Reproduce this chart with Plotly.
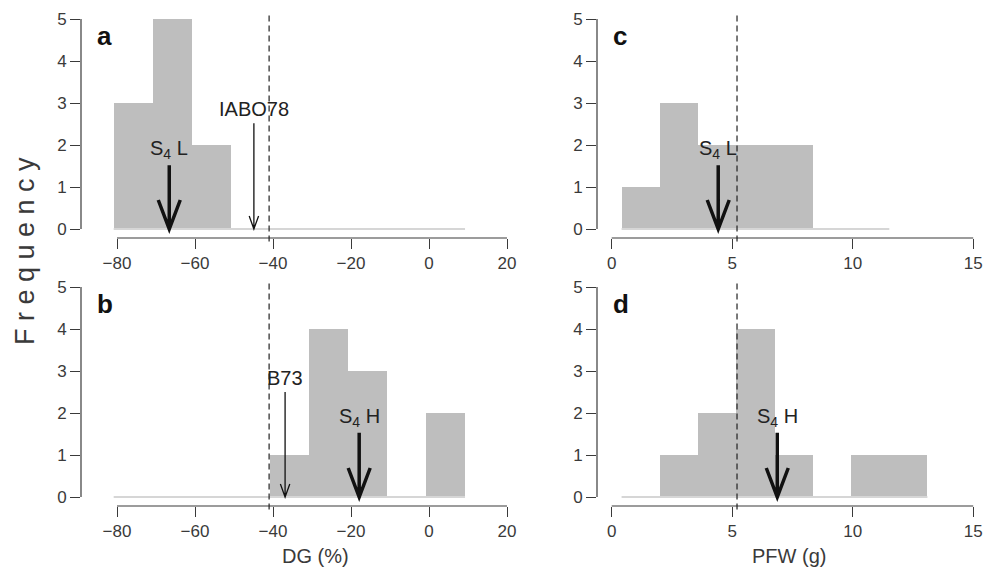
import plotly.graph_objects as go

# ---------------- data ----------------
dg_breaks = [-80.85, -70.84, -60.83, -50.82, -40.81, -30.80, -20.79, -10.78, -0.77, 9.24]
dg_counts_a = [3, 5, 2, 0, 0, 0, 0, 0, 0]
dg_counts_b = [0, 0, 0, 0, 1, 4, 3, 0, 2]

pfw_breaks_c = [0.41, 2.0, 3.58, 5.17, 6.76, 8.35, 9.93, 11.52]
pfw_counts_c = [1, 3, 2, 2, 2, 0, 0]
pfw_breaks_d = [0.41, 2.0, 3.58, 5.17, 6.76, 8.35, 9.93, 11.52, 13.1]
pfw_counts_d = [0, 1, 2, 4, 1, 0, 1, 1]

dg_threshold = -41.0
pfw_threshold = 5.2

dg_ticks = [-80, -60, -40, -20, 0, 20]
pfw_ticks = [0, 5, 10, 15]
freq_ticks = [0, 1, 2, 3, 4, 5]

# arrows: (x, y_start, label, thick)
arrows_a = [(-66.6, 1.52, "S<sub>4</sub> L", True), (-44.9, 2.52, "IABO78", False)]
arrows_b = [(-36.9, 2.50, "B73", False), (-17.9, 1.53, "S<sub>4</sub> H", True)]
arrows_c = [(4.42, 1.52, "S<sub>4</sub> L", True)]
arrows_d = [(6.87, 1.53, "S<sub>4</sub> H", True)]

panel_letters = ["a", "b", "c", "d"]
x_titles = ["DG (%)", "PFW (g)"]
y_title = "F r e q u e n c y"

# ---------------- layout geometry ----------------
W, H = 992, 574
FONT = "Liberation Sans, Arial, Helvetica, sans-serif"
AXC = "#3a3a3a"
BAR = "#bebebe"
ZERO = "#d6d6d6"

def fx(px):
    return px / W

def fy(py):
    return 1 - py / H

panels = [
    dict(name="a", xd=(81, 522), yd=(238, 10.6), x0px=117, x0v=-80, xs=3.9, y0px=229, ys=42,
         breaks=dg_breaks, counts=dg_counts_a, thr=dg_threshold, ticks=dg_ticks, arrows=arrows_a),
    dict(name="b", xd=(81, 522), yd=(506, 278.6), x0px=117, x0v=-80, xs=3.9, y0px=497, ys=42,
         breaks=dg_breaks, counts=dg_counts_b, thr=dg_threshold, ticks=dg_ticks, arrows=arrows_b),
    dict(name="c", xd=(597, 988), yd=(238, 10.6), x0px=611.7, x0v=0, xs=24.1, y0px=229, ys=42,
         breaks=pfw_breaks_c, counts=pfw_counts_c, thr=pfw_threshold, ticks=pfw_ticks, arrows=arrows_c),
    dict(name="d", xd=(597, 988), yd=(506, 278.6), x0px=611.7, x0v=0, xs=24.1, y0px=497, ys=42,
         breaks=pfw_breaks_d, counts=pfw_counts_d, thr=pfw_threshold, ticks=pfw_ticks, arrows=arrows_d),
]

fig = go.Figure()
layout = dict(width=W, height=H, margin=dict(l=0, r=0, t=0, b=0),
              paper_bgcolor="white", plot_bgcolor="white", showlegend=False,
              font=dict(family=FONT, size=17, color=AXC), bargap=0)
shapes = []
annotations = []

for i, p in enumerate(panels):
    k = "" if i == 0 else str(i + 1)
    xa, ya = "x" + k, "y" + k
    xr = [p["x0v"] + (p["xd"][0] - p["x0px"]) / p["xs"], p["x0v"] + (p["xd"][1] - p["x0px"]) / p["xs"]]
    yr = [-(p["yd"][0] - p["y0px"]) / p["ys"], (p["y0px"] - p["yd"][1]) / p["ys"]]
    layout["xaxis" + k] = dict(domain=[fx(p["xd"][0]), fx(p["xd"][1])], range=xr, anchor=ya,
                               showgrid=False, zeroline=False, showline=False, automargin=False,
                               tickvals=p["ticks"], ticktext=[str(t).replace("-", "\u2212") for t in p["ticks"]],
                               ticks="outside", ticklen=10, tickwidth=1, tickcolor=AXC,
                               tickfont=dict(size=17, color=AXC, family=FONT))
    layout["yaxis" + k] = dict(domain=[fy(p["yd"][0]), fy(p["yd"][1])], range=yr, anchor=xa,
                               showgrid=False, zeroline=False, showline=False, automargin=False,
                               tickvals=freq_ticks, ticks="outside", ticklen=10, tickwidth=1,
                               tickcolor=AXC, tickfont=dict(size=17, color=AXC, family=FONT))

    br = p["breaks"]
    fig.add_trace(go.Scatter(x=[br[0], br[-1]], y=[0, 0], mode="lines",
                             line=dict(color=ZERO, width=2), xaxis=xa, yaxis=ya, hoverinfo="skip"))
    centers = [(br[j] + br[j + 1]) / 2 for j in range(len(p["counts"]))]
    widths = [br[j + 1] - br[j] for j in range(len(p["counts"]))]
    fig.add_trace(go.Bar(x=centers, y=p["counts"], width=widths, marker=dict(color=BAR, line=dict(width=0)),
                         xaxis=xa, yaxis=ya, hoverinfo="skip"))

    shapes.append(dict(type="line", xref=xa, yref=ya + " domain", x0=p["ticks"][0], x1=p["ticks"][-1],
                       y0=0, y1=0, line=dict(color=AXC, width=1.2)))
    shapes.append(dict(type="line", xref=xa + " domain", yref=ya, x0=0, x1=0,
                       y0=freq_ticks[0], y1=freq_ticks[-1], line=dict(color=AXC, width=1.2)))
    shapes.append(dict(type="line", xref=xa, yref=ya + " domain", x0=p["thr"], x1=p["thr"],
                       y0=-0.015, y1=0.98, line=dict(color="#222", width=1.2, dash="6px,4px")))
    for (ax_, y0_, lab, thick) in p["arrows"]:
        if thick:
            lw, hl, hw = 3.5, 29, 11
        else:
            lw, hl, hw = 1.3, 13, 4.7
        dx = hw / p["xs"]
        dy = hl / p["ys"]
        shapes.append(dict(type="path", xref=xa, yref=ya,
                           path=f"M {ax_},{y0_} L {ax_},0 M {ax_-dx},{dy} L {ax_},0 L {ax_+dx},{dy}",
                           line=dict(color="#111", width=lw)))
        annotations.append(dict(x=ax_, y=y0_, xref=xa, yref=ya, text=lab, showarrow=False,
                                xanchor="center", yanchor="bottom", yshift=1,
                                font=dict(size=20, color="#222", family=FONT)))
    annotations.append(dict(x=fx(p["xd"][0] + 14), y=fy(p["yd"][1] + 25), xref="paper", yref="paper",
                            text="<b>" + panel_letters[i] + "</b>", showarrow=False,
                            xanchor="left", yanchor="middle",
                            font=dict(size=26, color="#111", family=FONT)))

annotations.append(dict(x=fx(315), y=fy(556), xref="paper", yref="paper", text=x_titles[0],
                        showarrow=False, xanchor="center", yanchor="middle",
                        font=dict(size=20, color=AXC, family=FONT)))
annotations.append(dict(x=fx(789), y=fy(556), xref="paper", yref="paper", text=x_titles[1],
                        showarrow=False, xanchor="center", yanchor="middle",
                        font=dict(size=20, color=AXC, family=FONT)))
annotations.append(dict(x=fx(25), y=fy(251), xref="paper", yref="paper", text=y_title,
                        showarrow=False, textangle=-90, xanchor="center", yanchor="middle",
                        font=dict(size=27, color=AXC, family=FONT)))

layout["shapes"] = shapes
layout["annotations"] = annotations
fig.update_layout(**layout)
fig.write_html("out.html", config={"displayModeBar": False},
               post_script="document.body.style.margin='0px';document.body.style.overflow='hidden';")
